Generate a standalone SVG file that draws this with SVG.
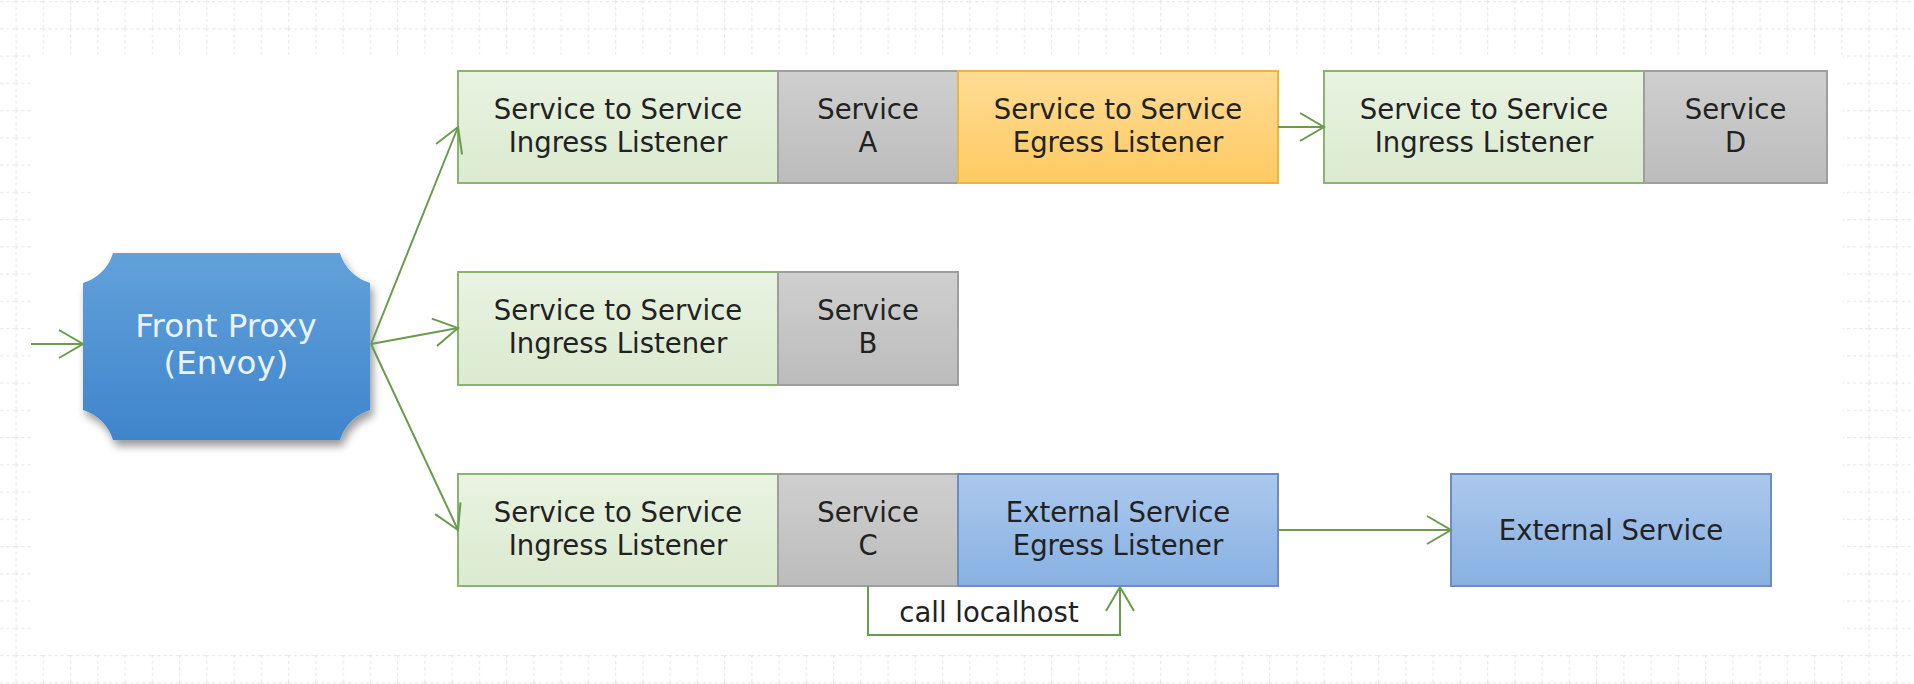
<svg xmlns="http://www.w3.org/2000/svg" width="1914" height="684" viewBox="0 0 1914 684">
<style>
text{font-family:"DejaVu Sans","Liberation Sans",sans-serif;fill:#222;text-anchor:middle}
.lbl{font-size:27.5px}
.fp{font-size:32.5px;fill:#eaf3fc}
.conn{fill:none;stroke:#6b9b4e;stroke-width:2}
.green{fill:url(#gGreen);stroke:#8ab56e;stroke-width:2}
.gray{fill:url(#gGray);stroke:#9e9e9e;stroke-width:2}
.orange{fill:url(#gOrange);stroke:#e8b740;stroke-width:2}
.blue{fill:url(#gBlue);stroke:#6c8ebf;stroke-width:2}
</style>
<defs>
<pattern id="grid" patternUnits="userSpaceOnUse" x="15.5" y="1" width="27.25" height="27.25">
<path d="M0,0.5 H27.25 M0.5,0 V27.25" stroke="#e9e9e9" stroke-width="1.5" stroke-dasharray="3,3" fill="none"/>
</pattern>
<linearGradient id="gGreen" x1="0" y1="0" x2="0" y2="1"><stop offset="0" stop-color="#e8f3e1"/><stop offset="1" stop-color="#dbead0"/></linearGradient>
<linearGradient id="gGray" x1="0" y1="0" x2="0" y2="1"><stop offset="0" stop-color="#cfcfcf"/><stop offset="1" stop-color="#bcbcbc"/></linearGradient>
<linearGradient id="gOrange" x1="0" y1="0" x2="0" y2="1"><stop offset="0" stop-color="#ffdc95"/><stop offset="1" stop-color="#ffca62"/></linearGradient>
<linearGradient id="gBlue" x1="0" y1="0" x2="0" y2="1"><stop offset="0" stop-color="#abc8ed"/><stop offset="1" stop-color="#88b1e2"/></linearGradient>
<linearGradient id="gFP" x1="0" y1="0" x2="0" y2="1"><stop offset="0" stop-color="#62a1da"/><stop offset="1" stop-color="#3f85cc"/></linearGradient>
<filter id="shadow" x="-10%" y="-10%" width="130%" height="140%">
<feDropShadow dx="3" dy="6" stdDeviation="4" flood-color="#000" flood-opacity="0.4"/>
</filter>
<marker id="arrow" viewBox="0 0 27 30" refX="25" refY="15" markerWidth="27" markerHeight="30" markerUnits="userSpaceOnUse" orient="auto">
<path d="M1,1 L25,15 L1,29" fill="none" stroke="#6b9b4e" stroke-width="2"/>
</marker>
</defs>
<rect x="0" y="0" width="1914" height="684" fill="#fff"/>
<rect x="0" y="0" width="1914" height="684" fill="url(#grid)"/>
<rect x="31" y="55" width="1812" height="600" fill="#fff"/>

<g id="front-proxy">
<path d="M113,253 H340 A44,44 0 0 0 370,283 V410 A44,44 0 0 0 340,440 H113 A44,44 0 0 0 83,410 V283 A44,44 0 0 0 113,253 Z" fill="url(#gFP)" filter="url(#shadow)"/>
<text class="fp" x="226" y="337">Front Proxy</text>
<text class="fp" x="226" y="374">(Envoy)</text>
</g>

<g id="ingress-a">
<rect class="green" x="458" y="71" width="320" height="112"/>
<text class="lbl" x="618" y="119">Service to Service</text>
<text class="lbl" x="618" y="152">Ingress Listener</text>
</g>
<g id="service-a">
<rect class="gray" x="778" y="71" width="180" height="112"/>
<text class="lbl" x="868" y="119">Service</text>
<text class="lbl" x="868" y="152">A</text>
</g>
<g id="egress-a">
<rect class="orange" x="958" y="71" width="320" height="112"/>
<text class="lbl" x="1118" y="119">Service to Service</text>
<text class="lbl" x="1118" y="152">Egress Listener</text>
</g>
<g id="ingress-d">
<rect class="green" x="1324" y="71" width="320" height="112"/>
<text class="lbl" x="1484" y="119">Service to Service</text>
<text class="lbl" x="1484" y="152">Ingress Listener</text>
</g>
<g id="service-d">
<rect class="gray" x="1644" y="71" width="183" height="112"/>
<text class="lbl" x="1735.5" y="119">Service</text>
<text class="lbl" x="1735.5" y="152">D</text>
</g>

<g id="ingress-b">
<rect class="green" x="458" y="272" width="320" height="113"/>
<text class="lbl" x="618" y="320">Service to Service</text>
<text class="lbl" x="618" y="353">Ingress Listener</text>
</g>
<g id="service-b">
<rect class="gray" x="778" y="272" width="180" height="113"/>
<text class="lbl" x="868" y="320">Service</text>
<text class="lbl" x="868" y="353">B</text>
</g>

<g id="ingress-c">
<rect class="green" x="458" y="474" width="320" height="112"/>
<text class="lbl" x="618" y="522">Service to Service</text>
<text class="lbl" x="618" y="555">Ingress Listener</text>
</g>
<g id="service-c">
<rect class="gray" x="778" y="474" width="180" height="112"/>
<text class="lbl" x="868" y="522">Service</text>
<text class="lbl" x="868" y="555">C</text>
</g>
<g id="egress-c">
<rect class="blue" x="958" y="474" width="320" height="112"/>
<text class="lbl" x="1118" y="522">External Service</text>
<text class="lbl" x="1118" y="555">Egress Listener</text>
</g>
<g id="external-service">
<rect class="blue" x="1451" y="474" width="320" height="112"/>
<text class="lbl" x="1611" y="540">External Service</text>
</g>

<g id="connectors">
<line class="conn" x1="31" y1="344" x2="83" y2="344" marker-end="url(#arrow)"/>
<line class="conn" x1="371" y1="344" x2="458" y2="127" marker-end="url(#arrow)"/>
<line class="conn" x1="371" y1="344" x2="458" y2="328" marker-end="url(#arrow)"/>
<line class="conn" x1="371" y1="344" x2="458" y2="530" marker-end="url(#arrow)"/>
<line class="conn" x1="1278" y1="127" x2="1324" y2="127" marker-end="url(#arrow)"/>
<line class="conn" x1="1278" y1="530" x2="1451" y2="530" marker-end="url(#arrow)"/>
<polyline class="conn" points="868,586 868,635 1120,635 1120,587" marker-end="url(#arrow)"/>
<text class="lbl" x="989" y="622">call localhost</text>
</g>
</svg>
